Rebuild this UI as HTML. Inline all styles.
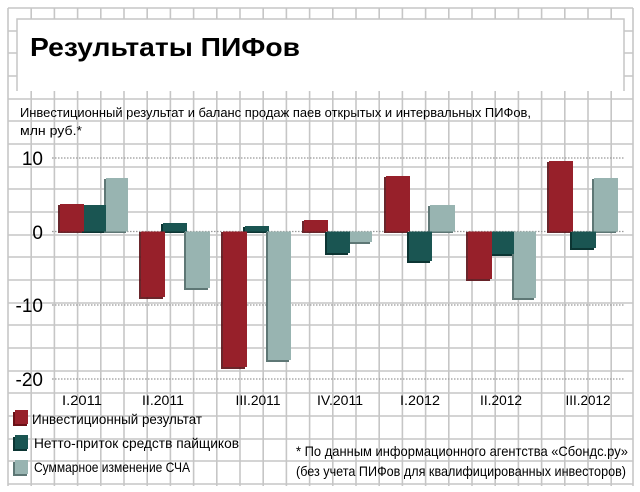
<!DOCTYPE html>
<html><head><meta charset="utf-8"><style>body{margin:0;background:#fff}svg{display:block}text{font-family:"Liberation Sans",sans-serif}</style></head><body>
<svg width="640" height="492" xmlns="http://www.w3.org/2000/svg">
<rect width="640" height="492" fill="#fff"/>
<g stroke="#c6c6c6" stroke-width="1.6">
<line x1="8" y1="8" x2="8" y2="486"/><line x1="31.2" y1="8" x2="31.2" y2="486"/><line x1="54.4" y1="8" x2="54.4" y2="486"/><line x1="77.6" y1="8" x2="77.6" y2="486"/><line x1="100.8" y1="8" x2="100.8" y2="486"/><line x1="124" y1="8" x2="124" y2="486"/><line x1="147.2" y1="8" x2="147.2" y2="486"/><line x1="170.4" y1="8" x2="170.4" y2="486"/><line x1="193.6" y1="8" x2="193.6" y2="486"/><line x1="216.8" y1="8" x2="216.8" y2="486"/><line x1="240" y1="8" x2="240" y2="486"/><line x1="263.2" y1="8" x2="263.2" y2="486"/><line x1="286.4" y1="8" x2="286.4" y2="486"/><line x1="309.6" y1="8" x2="309.6" y2="486"/><line x1="332.8" y1="8" x2="332.8" y2="486"/><line x1="356" y1="8" x2="356" y2="486"/><line x1="379.2" y1="8" x2="379.2" y2="486"/><line x1="402.4" y1="8" x2="402.4" y2="486"/><line x1="425.6" y1="8" x2="425.6" y2="486"/><line x1="448.8" y1="8" x2="448.8" y2="486"/><line x1="472" y1="8" x2="472" y2="486"/><line x1="495.2" y1="8" x2="495.2" y2="486"/><line x1="518.4" y1="8" x2="518.4" y2="486"/><line x1="541.6" y1="8" x2="541.6" y2="486"/><line x1="564.8" y1="8" x2="564.8" y2="486"/><line x1="588" y1="8" x2="588" y2="486"/><line x1="611.2" y1="8" x2="611.2" y2="486"/><line x1="633" y1="8" x2="633" y2="486"/>
<line x1="8" y1="8" x2="633" y2="8"/><line x1="8" y1="31" x2="633" y2="31"/><line x1="8" y1="53" x2="633" y2="53"/><line x1="8" y1="76" x2="633" y2="76"/><line x1="8" y1="99" x2="633" y2="99"/><line x1="8" y1="121" x2="633" y2="121"/><line x1="8" y1="144" x2="633" y2="144"/><line x1="8" y1="167" x2="633" y2="167"/><line x1="8" y1="189" x2="633" y2="189"/><line x1="8" y1="212" x2="633" y2="212"/><line x1="8" y1="235" x2="633" y2="235"/><line x1="8" y1="257" x2="633" y2="257"/><line x1="8" y1="280" x2="633" y2="280"/><line x1="8" y1="303" x2="633" y2="303"/><line x1="8" y1="325" x2="633" y2="325"/><line x1="8" y1="348" x2="633" y2="348"/><line x1="8" y1="371" x2="633" y2="371"/><line x1="8" y1="393" x2="633" y2="393"/><line x1="8" y1="416" x2="633" y2="416"/><line x1="8" y1="439" x2="633" y2="439"/><line x1="8" y1="461" x2="633" y2="461"/><line x1="8" y1="484" x2="633" y2="484"/>
</g>
<rect x="17" y="19" width="607" height="72" fill="#fff"/>
<path d="M17 91 V19 H624 V91" fill="none" stroke="#c6c6c6" stroke-width="1.5"/>
<text x="30" y="56" font-size="26" font-weight="bold" textLength="270" lengthAdjust="spacingAndGlyphs">Результаты ПИФов</text>
<text x="20" y="117" font-size="13" textLength="511" lengthAdjust="spacingAndGlyphs">Инвестиционный результат и баланс продаж паев открытых и интервальных ПИФов,</text>
<text x="20" y="135" font-size="13" textLength="62" lengthAdjust="spacingAndGlyphs">млн руб.*</text>
<g stroke="#999" stroke-width="1.2" stroke-dasharray="1.5,1.5">
<line x1="52" y1="158" x2="625" y2="158"/><line x1="52" y1="231.5" x2="625" y2="231.5"/><line x1="52" y1="305" x2="625" y2="305"/><line x1="52" y1="379" x2="625" y2="379"/>
</g>
<g font-size="19" text-anchor="end">
<text x="43" y="165">10</text><text x="43" y="239">0</text><text x="43" y="312">-10</text><text x="43" y="386">-20</text>
</g>
<g>
<g fill="#5a1016" opacity="0.9">
<rect x="58" y="205" width="24" height="28"/><rect x="139" y="232" width="24" height="67"/><rect x="221" y="232" width="24" height="137"/><rect x="302" y="221" width="24" height="12"/><rect x="384" y="177" width="24" height="56"/><rect x="466" y="232" width="24" height="49"/><rect x="547" y="162" width="24" height="71"/>
</g>
<g fill="#0c3533">
<rect x="82" y="206" width="22" height="27"/><rect x="161" y="224" width="24" height="9"/><rect x="243" y="227" width="24" height="6"/><rect x="325" y="232" width="23" height="23"/><rect x="407" y="232" width="23" height="31"/><rect x="490" y="232" width="22" height="24"/><rect x="570" y="232" width="24" height="18"/>
</g>
<g fill="#5e7775">
<rect x="104" y="179" width="22" height="54"/><rect x="184" y="232" width="24" height="58"/><rect x="266" y="232" width="23" height="130"/><rect x="348" y="232" width="22" height="12"/><rect x="428" y="206" width="25" height="27"/><rect x="512" y="232" width="22" height="68"/><rect x="592" y="179" width="24" height="54"/>
</g>
<g fill="#97202a">
<rect x="60" y="204" width="24" height="27.5"/><rect x="141" y="231.5" width="24" height="65.5"/><rect x="223" y="231.5" width="24" height="135.5"/><rect x="304" y="220" width="24" height="11.5"/><rect x="386" y="176" width="24" height="55.5"/><rect x="468" y="231.5" width="24" height="47.5"/><rect x="549" y="161" width="24" height="70.5"/>
</g>
<g fill="#1a5552">
<rect x="84" y="205" width="22" height="26.5"/><rect x="163" y="223" width="24" height="8.5"/><rect x="245" y="226" width="24" height="5.5"/><rect x="327" y="231.5" width="23" height="21.5"/><rect x="409" y="231.5" width="23" height="29.5"/><rect x="492" y="231.5" width="22" height="22.5"/><rect x="572" y="231.5" width="24" height="16.5"/>
</g>
<g fill="#98b4b1">
<rect x="106" y="178" width="22" height="53.5"/><rect x="186" y="231.5" width="24" height="56.5"/><rect x="268" y="231.5" width="23" height="128.5"/><rect x="350" y="231.5" width="22" height="10.5"/><rect x="430" y="205" width="25" height="26.5"/><rect x="514" y="231.5" width="22" height="66.5"/><rect x="594" y="178" width="24" height="53.5"/>
</g>
</g>
<g font-size="14" text-anchor="middle">
<text x="82" y="405" textLength="40" lengthAdjust="spacingAndGlyphs">I.2011</text>
<text x="163" y="405" textLength="42" lengthAdjust="spacingAndGlyphs">II.2011</text>
<text x="258" y="405" textLength="45" lengthAdjust="spacingAndGlyphs">III.2011</text>
<text x="340" y="405" textLength="46" lengthAdjust="spacingAndGlyphs">IV.2011</text>
<text x="420" y="405" textLength="40" lengthAdjust="spacingAndGlyphs">I.2012</text>
<text x="501" y="405" textLength="42" lengthAdjust="spacingAndGlyphs">II.2012</text>
<text x="588" y="405" textLength="45" lengthAdjust="spacingAndGlyphs">III.2012</text>
</g>
<rect x="13" y="412" width="14" height="14" fill="#6a1016"/><rect x="15" y="410" width="13" height="14" fill="#97202a"/>
<rect x="13" y="437" width="14" height="14" fill="#0c3533"/><rect x="15" y="435" width="13" height="14" fill="#1a5552"/>
<rect x="13" y="462" width="14" height="14" fill="#5e7775"/><rect x="15" y="460" width="13" height="14" fill="#98b4b1"/>
<g font-size="14">
<text x="32" y="424" textLength="170" lengthAdjust="spacingAndGlyphs">Инвестиционный результат</text>
<text x="34" y="448" textLength="205" lengthAdjust="spacingAndGlyphs">Нетто-приток средств пайщиков</text>
<text x="34" y="472" textLength="156" lengthAdjust="spacingAndGlyphs">Суммарное изменение СЧА</text>
<text x="296" y="456" textLength="332" lengthAdjust="spacingAndGlyphs">* По данным информационного агентства «Сбондс.ру»</text>
<text x="296" y="476" textLength="330" lengthAdjust="spacingAndGlyphs">(без учета ПИФов для квалифицированных инвесторов)</text>
</g>
</svg>
</body></html>
